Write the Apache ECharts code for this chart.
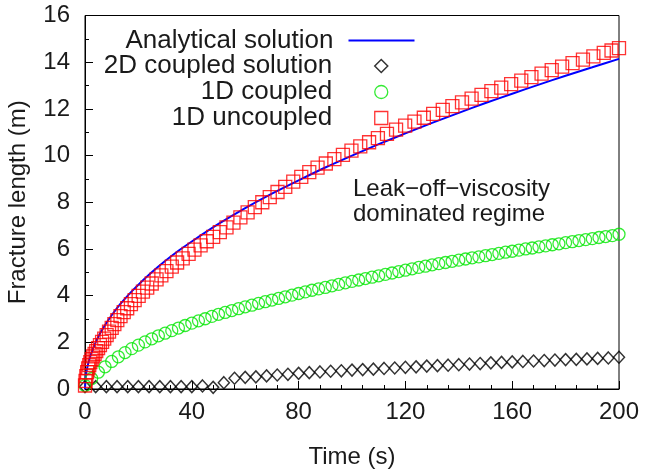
<!DOCTYPE html>
<html>
<head>
<meta charset="utf-8">
<script src="https://cdn.jsdelivr.net/npm/echarts/dist/echarts.min.js"></script>
<style>
html,body{margin:0;padding:0;background:#fff;}
#chart{width:648px;height:470px;}
</style>
</head>
<body>
<div id="chart"></div>
<script>
// ---- data ----
const xTicks = [0, 40, 80, 120, 160, 200];
const yTicks = [0, 2, 4, 6, 8, 10, 12, 14, 16];

const seriesNames = ['Analytical solution', '2D coupled solution', '1D coupled', '1D uncoupled'];

// Analytical solution (blue line)
const timeAnalytical = [0, 0.25, 0.5, 1, 1.5, 2, 3, 4, 5, 6, 8, 10, 12.5, 15, 17.5, 20, 25, 30, 35, 40, 50, 60, 70, 80, 90, 100, 110, 120, 130, 140, 150, 160, 170, 180, 190, 200];
const lenAnalytical = [0, 0.5, 0.71, 1, 1.22, 1.41, 1.73, 2, 2.24, 2.45, 2.83, 3.16, 3.54, 3.87, 4.18, 4.47, 5.0, 5.48, 5.92, 6.32, 7.07, 7.75, 8.37, 8.94, 9.49, 10.0, 10.49, 10.95, 11.4, 11.83, 12.25, 12.65, 13.04, 13.42, 13.78, 14.14];

// 2D coupled solution (black diamonds)
const time2D = [0, 4, 8, 12, 16, 20, 24, 28, 32, 36, 40, 44, 48, 52, 56, 60, 64, 68, 72, 76, 80, 84, 88, 92, 96, 100, 104, 108, 112, 116, 120, 124, 128, 132, 136, 140, 144, 148, 152, 156, 160, 164, 168, 172, 176, 180, 184, 188, 192, 196, 200];
const len2D = [0.1, 0.1, 0.1, 0.1, 0.1, 0.1, 0.1, 0.1, 0.1, 0.1, 0.1, 0.13, 0.07, 0.27, 0.46, 0.5, 0.52, 0.56, 0.6, 0.63, 0.67, 0.7, 0.73, 0.76, 0.78, 0.81, 0.83, 0.85, 0.88, 0.9, 0.93, 0.95, 0.98, 1.0, 1.02, 1.04, 1.07, 1.09, 1.12, 1.14, 1.16, 1.18, 1.2, 1.22, 1.24, 1.26, 1.27, 1.29, 1.31, 1.33, 1.36];

// 1D coupled (green circles)
const time1DC = [0, 2.5, 5, 7.5, 10, 12.5, 15, 17.5, 20, 22.5, 25, 27.5, 30, 32.5, 35, 37.5, 40, 42.5, 45, 47.5, 50, 52.5, 55, 57.5, 60, 62.5, 65, 67.5, 70, 72.5, 75, 77.5, 80, 82.5, 85, 87.5, 90, 92.5, 95, 97.5, 100, 102.5, 105, 107.5, 110, 112.5, 115, 117.5, 120, 122.5, 125, 127.5, 130, 132.5, 135, 137.5, 140, 142.5, 145, 147.5, 150, 152.5, 155, 157.5, 160, 162.5, 165, 167.5, 170, 172.5, 175, 177.5, 180, 182.5, 185, 187.5, 190, 192.5, 195, 197.5, 200];
const len1DC = [0.15, 0.45, 0.72, 0.95, 1.18, 1.38, 1.56, 1.73, 1.88, 2.02, 2.15, 2.28, 2.39, 2.5, 2.61, 2.72, 2.82, 2.92, 3.01, 3.11, 3.2, 3.28, 3.36, 3.44, 3.52, 3.59, 3.67, 3.74, 3.81, 3.88, 3.95, 4.02, 4.09, 4.16, 4.23, 4.29, 4.35, 4.42, 4.48, 4.55, 4.61, 4.67, 4.73, 4.79, 4.85, 4.91, 4.97, 5.03, 5.09, 5.15, 5.21, 5.26, 5.32, 5.37, 5.42, 5.47, 5.52, 5.57, 5.62, 5.66, 5.71, 5.76, 5.81, 5.86, 5.9, 5.95, 6.0, 6.04, 6.09, 6.13, 6.18, 6.22, 6.27, 6.31, 6.36, 6.4, 6.44, 6.49, 6.53, 6.57, 6.63];

// 1D uncoupled (red squares)
const time1DU = [0, 0.2, 0.5, 0.8, 1.2, 1.6, 2.0, 2.5, 3.0, 3.6, 4.2, 4.9, 5.6, 6.4, 7.2, 8.1, 9.0, 10.0, 11.0, 12.1, 13.3, 14.5, 15.8, 17.2, 18.6, 20.1, 21.7, 23.3, 25.0, 26.8, 28.6, 30.5, 32.5, 34.5, 36.6, 38.8, 41.0, 43.3, 45.6, 48.0, 50.5, 53.0, 55.6, 58.2, 60.9, 63.6, 66.4, 69.2, 72.1, 75.0, 78.0, 81.0, 84.0, 87.1, 90.2, 93.4, 96.6, 99.8, 103.1, 106.4, 109.7, 113.1, 116.5, 119.9, 123.4, 126.9, 130.4, 134.0, 137.6, 141.2, 144.8, 148.5, 152.2, 155.9, 159.6, 163.4, 167.2, 171.0, 174.8, 178.7, 182.6, 186.5, 190.4, 194.3, 197.2, 200];
const len1DU = [0.15, 0.35, 0.55, 0.72, 0.88, 1.02, 1.15, 1.28, 1.4, 1.5, 1.62, 1.75, 1.88, 2.02, 2.16, 2.31, 2.46, 2.62, 2.78, 2.95, 3.12, 3.29, 3.46, 3.64, 3.81, 3.99, 4.17, 4.34, 4.52, 4.7, 4.87, 5.05, 5.24, 5.42, 5.6, 5.79, 5.97, 6.15, 6.33, 6.52, 6.72, 6.92, 7.13, 7.35, 7.57, 7.79, 8.0, 8.22, 8.44, 8.66, 8.88, 9.09, 9.29, 9.48, 9.66, 9.85, 10.03, 10.21, 10.39, 10.57, 10.75, 10.93, 11.11, 11.28, 11.45, 11.62, 11.79, 11.96, 12.12, 12.28, 12.44, 12.6, 12.76, 12.91, 13.06, 13.21, 13.36, 13.51, 13.66, 13.81, 13.96, 14.11, 14.25, 14.4, 14.5, 14.6];

const annotationLines = ['Leak\u2212off\u2212viscosity', 'dominated regime'];
const xAxisName = 'Time (s)';
const yAxisName = 'Fracture length (m)';

// ---- chart ----
const FONT = "'Liberation Sans', Arial, Helvetica, sans-serif";
const TXT = '#1a1a1a';
const BLUE = '#0000ff', GREEN = '#00e600', RED = '#ff0000', BLACK = '#000';
const pairs = (a, b) => a.map((v, i) => [v, b[i]]);

const chart = echarts.init(document.getElementById('chart'), null, {renderer: 'canvas'});

const axisCommon = {
  type: 'value',
  axisLine: {show: true, lineStyle: {color: '#000', width: 1}},
  axisTick: {show: true, inside: true, length: 8, lineStyle: {color: '#000', width: 1}},
  minorTick: {show: true, length: 4, lineStyle: {color: '#000', width: 1}},
  splitLine: {show: false},
  minorSplitLine: {show: false},
  axisLabel: {fontSize: 24, color: TXT, fontFamily: FONT},
  nameTextStyle: {fontSize: 24, color: TXT, fontFamily: FONT}
};

const legendText = {fontSize: 26, color: TXT, fontFamily: FONT, lineHeight: 25};

chart.setOption({
  animation: false,
  backgroundColor: '#fff',
  grid: {
    left: 85, right: 29, top: 15.5, bottom: 81,
    containLabel: false, outerBoundsMode: 'none',
    show: true, borderColor: '#000', borderWidth: 1, backgroundColor: 'transparent'
  },
  xAxis: Object.assign({}, axisCommon, {
    min: xTicks[0], max: xTicks[xTicks.length - 1], interval: xTicks[1] - xTicks[0],
    minorTick: Object.assign({}, axisCommon.minorTick, {splitNumber: 5}),
    axisLabel: Object.assign({}, axisCommon.axisLabel, {margin: 11}),
    name: xAxisName, nameLocation: 'middle', nameGap: 56
  }),
  yAxis: Object.assign({}, axisCommon, {
    min: yTicks[0], max: yTicks[yTicks.length - 1], interval: yTicks[1] - yTicks[0],
    minorTick: Object.assign({}, axisCommon.minorTick, {splitNumber: 2}),
    axisLabel: Object.assign({}, axisCommon.axisLabel, {margin: 15}),
    name: yAxisName, nameLocation: 'middle', nameGap: 55, nameRotate: 90
  }),
  legend: [
    {
      orient: 'vertical', align: 'right', right: 233.5, top: 27.5, padding: 0, itemGap: 0,
      itemWidth: 66, itemHeight: 2, selectedMode: false,
      textStyle: Object.assign({}, legendText, {padding: [0, 10, 0, 0]}),
      data: [{name: seriesNames[0], icon: 'rect', itemStyle: {color: BLUE, borderWidth: 0}}]
    },
    {
      orient: 'vertical', align: 'right', right: 259.5, top: 53, padding: 0, itemGap: 0,
      itemWidth: 13, itemHeight: 13, selectedMode: false,
      textStyle: Object.assign({}, legendText, {padding: [0, 37.5, 0, 0]}),
      data: [
        {name: seriesNames[1], icon: 'diamond', itemStyle: {color: 'rgba(0,0,0,0)', borderColor: BLACK, borderWidth: 1.5}},
        {name: seriesNames[2], icon: 'circle', itemStyle: {color: 'rgba(0,0,0,0)', borderColor: GREEN, borderWidth: 1.3}},
        {name: seriesNames[3], icon: 'rect', itemStyle: {color: 'rgba(0,0,0,0)', borderColor: RED, borderWidth: 1.3}}
      ]
    }
  ],
  graphic: [{
    type: 'text',
    left: 353,
    top: 177,
    silent: true,
    style: {text: annotationLines.join('\n'), fontSize: 24, fontFamily: FONT, fill: TXT, lineHeight: 25}
  }],
  series: [
    {
      name: seriesNames[0], type: 'line', data: pairs(timeAnalytical, lenAnalytical),
      symbol: 'none', smooth: 0.2, silent: true,
      lineStyle: {color: BLUE, width: 2}, itemStyle: {color: BLUE}, z: 2
    },
    {
      name: seriesNames[1], type: 'scatter', data: pairs(time2D, len2D),
      symbol: 'diamond', symbolSize: [11, 12], silent: true,
      itemStyle: {color: 'rgba(0,0,0,0)', borderColor: BLACK, borderWidth: 1.5}, z: 3
    },
    {
      name: seriesNames[2], type: 'scatter', data: pairs(time1DC, len1DC),
      symbol: 'circle', symbolSize: 12, silent: true,
      itemStyle: {color: 'rgba(0,0,0,0)', borderColor: GREEN, borderWidth: 1.3}, z: 3
    },
    {
      name: seriesNames[3], type: 'scatter', data: pairs(time1DU, len1DU),
      symbol: 'rect', symbolSize: 13, silent: true,
      itemStyle: {color: 'rgba(0,0,0,0)', borderColor: RED, borderWidth: 1.3}, z: 3
    }
  ]
});
</script>
</body>
</html>
